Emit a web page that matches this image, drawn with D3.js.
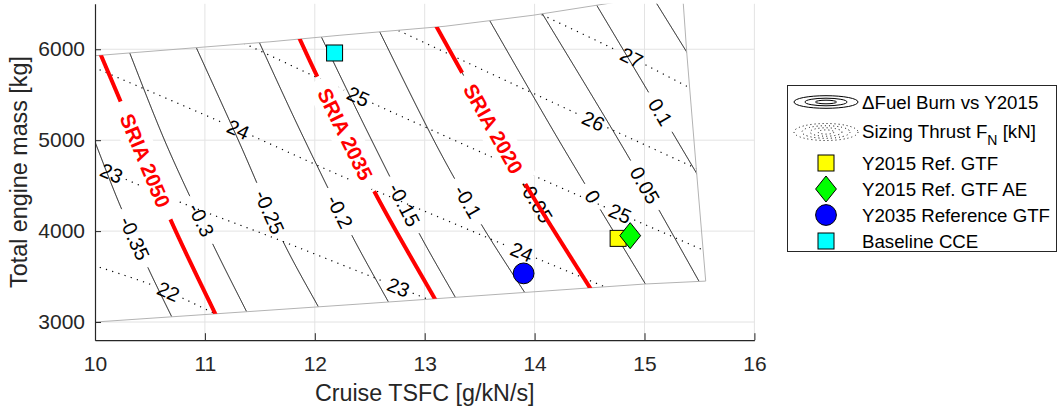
<!DOCTYPE html>
<html>
<head>
<meta charset="utf-8">
<title>Engine design space: cruise TSFC vs engine mass</title>
<script src="https://cdn.jsdelivr.net/npm/d3@7/dist/d3.min.js"></script>
<style>
  html, body { margin: 0; padding: 0; background: #fff; }
  svg { display: block; }
</style>
</head>
<body>
<svg id="chart" width="1060" height="412"></svg>
<script>
// ---------- axes ----------
const xTicks = [10, 11, 12, 13, 14, 15, 16];
const yTicks = [3000, 4000, 5000, 6000];
const xDomain = [10, 16];
const yDomain = [2800, 6500];

// ---------- outline of the evaluated design space [TSFC g/kN/s, mass kg] ----------
const designSpace = [
  [10, 5929], [11.592, 6082], [12.229, 6154], [13.185, 6253], [13.985, 6374],
  [14.659, 6502], [15.345, 6643], [15.353, 6502], [15.384, 5970], [15.475, 4634],
  [15.557, 3450], [15.005, 3418], [12.411, 3198], [10, 3000]
];

// ---------- fuel burn change vs Y2015 (solid contours) ----------
const fuelLevels = [-0.35, -0.3, -0.25, -0.2, -0.15, -0.1, -0.05, 0, 0.05, 0.1, 0.15];
const fuelLines = [
  [[10, 4981], [10.227, 4286], [10.485, 3590], [10.698, 3058]],
  [[10.316, 5959], [10.652, 4945], [11.076, 3846], [11.380, 3113]],
  [[10.922, 6017], [11.304, 5000], [11.713, 3882], [12.032, 3168]],
  [[11.496, 6073], [11.865, 5110], [12.336, 3956], [12.669, 3223]],
  [[12.060, 6135], [12.472, 5110], [12.942, 3992], [13.280, 3269]],
  [[12.591, 6191], [13.139, 4871], [13.519, 4066], [13.913, 3319]],
  [[13.109, 6245], [13.337, 5750], [13.922, 4505], [14.498, 3388]],
  [[13.592, 6314], [14.231, 4978], [15.005, 3425]],
  [[14.079, 6374], [14.868, 4788], [15.490, 3461]],
  [[14.565, 6484], [15.035, 5531], [15.475, 4634]],
  [[15.111, 6502], [15.384, 5970]]
];
// mass at which each fuel burn contour carries its label (null: unlabelled)
const fuelLabelMass = [3920, 4121, 4209, 4212, 4286, 4322, 4322, 4377, 4505, 5311, null];

// ---------- sizing thrust F_N [kN] (dotted contours) ----------
const thrustLevels = [22, 23, 24, 25, 26, 27];
const thrustLines = [
  [[10, 3619], [10.561, 3388], [11.095, 3090]],
  [[10, 4714], [10.804, 4304], [11.638, 3920], [12.593, 3462], [13.030, 3250]],
  [[10, 5796], [11.213, 5165], [12.259, 4597], [13.230, 4102], [14.019, 3700], [14.650, 3381]],
  [[11.365, 6060], [12.532, 5403], [14.049, 4579], [15.535, 3791]],
  [[12.775, 6198], [14.352, 5311], [15.455, 4698]],
  [[14.076, 6374], [14.777, 5970], [15.396, 5586]]
];
// TSFC values at which each thrust contour carries its labels
const thrustLabelTsfc = [[10.667], [10.152, 12.760], [11.304, 13.883], [12.396, 14.777], [14.534], [14.884]];

// ---------- SRIA fuel burn targets ----------
const sriaNames = ["SRIA 2050", "SRIA 2035", "SRIA 2020"];
const sriaLines = [
  [[10.061, 5915], [10.228, 5440], [10.692, 4113], [11.092, 3096]],
  [[11.865, 6107], [12.017, 5714], [12.548, 4421], [13.085, 3271]],
  [[13.109, 6245], [13.337, 5750], [13.922, 4505], [14.498, 3388]]
];
const sriaLabelMass = [4776, 5067, 5128];

// ---------- engine designs ----------
const engineNames = ["Y2015 Ref. GTF", "Y2015 Ref. GTF AE", "Y2035 Reference GTF", "Baseline CCE"];
const engineTsfc = [14.76, 14.87, 13.90, 12.18];
const engineMass = [3920, 3950, 3535, 5959];
const engineSymbols = ["square", "diamond", "circle", "square"];
const engineColors = ["#ffff00", "#00ff00", "#0000ff", "#00ffff"];

// ================= drawing =================
const FONT = '"Liberation Sans", Arial, Helvetica, sans-serif';
const AXIS_COLOR = "#262626";
const svg = d3.select("#chart").style("font-family", FONT);

const x = d3.scaleLinear().domain(xDomain).range([95, 754.4]);
const y = d3.scaleLinear().domain(yDomain).range([340.2, 3.8]);

const toPx = d => [x(d[0]), y(d[1])];
const smooth = d3.line().curve(d3.curveCatmullRom.alpha(0.5));
const straight = d3.line();

// clip regions: plot box and the evaluated design space
const defs = svg.append("defs");
defs.append("clipPath").attr("id", "plotClip").append("rect")
  .attr("x", x(xDomain[0])).attr("y", y(yDomain[1]))
  .attr("width", x(xDomain[1]) - x(xDomain[0]))
  .attr("height", y(yDomain[0]) - y(yDomain[1]));
defs.append("clipPath").attr("id", "spaceClip").append("path")
  .attr("d", straight(designSpace.map(toPx)) + "Z");

// text measuring helper
const measurer = svg.append("text").attr("visibility", "hidden").style("font-family", FONT);
function textWidth(str, size, weight) {
  measurer.attr("font-size", size).attr("font-weight", weight || "normal").text(str);
  return measurer.node().getComputedTextLength();
}

// sample a smoothed contour densely (ends stretched slightly so the clip trims them)
function trace(points) {
  let px = points.map(toPx);
  const stretch = (a, b) => {
    const dx = a[0] - b[0], dy = a[1] - b[1], l = Math.hypot(dx, dy);
    return [a[0] + dx / l * 8, a[1] + dy / l * 8];
  };
  px = [stretch(px[0], px[1]), ...px, stretch(px[px.length - 1], px[px.length - 2])];
  const tmp = svg.append("path").attr("d", smooth(px)).attr("fill", "none");
  const node = tmp.node();
  const L = node.getTotalLength();
  const n = Math.ceil(L / 0.5);
  const samples = d3.range(n + 1).map(i => {
    const s = i * L / n, p = node.getPointAtLength(s);
    return { s, x: p.x, y: p.y };
  });
  tmp.remove();
  return samples;
}

function locate(samples, key, target) {
  let best = 0, bd = Infinity;
  samples.forEach((p, i) => { const d = Math.abs(p[key] - target); if (d < bd) { bd = d; best = i; } });
  const a = samples[Math.max(0, best - 6)], b = samples[Math.min(samples.length - 1, best + 6)];
  let ang = Math.atan2(b.y - a.y, b.x - a.x) * 180 / Math.PI;
  if (ang > 90) ang -= 180;
  if (ang < -90) ang += 180;
  return { x: samples[best].x, y: samples[best].y, s: samples[best].s, ang };
}

function splitByGaps(samples, gaps) {
  const out = [];
  let cur = [];
  for (const p of samples) {
    if (gaps.some(g => p.s > g[0] && p.s < g[1])) {
      if (cur.length > 1) out.push(cur);
      cur = [];
    } else cur.push([p.x, p.y]);
  }
  if (cur.length > 1) out.push(cur);
  return out;
}

// ---- grid ----
const grid = svg.append("g").attr("stroke", "#e3e3e3").attr("stroke-width", 1);
grid.selectAll("line.gx").data(xTicks.slice(1)).join("line")
  .attr("x1", d => x(d)).attr("x2", d => x(d))
  .attr("y1", y(yDomain[0])).attr("y2", y(yDomain[1]));
grid.selectAll("line.gy").data(yTicks).join("line")
  .attr("x1", x(xDomain[0])).attr("x2", x(xDomain[1]))
  .attr("y1", d => y(d)).attr("y2", d => y(d));

// ---- layers ----
const plot = svg.append("g").attr("clip-path", "url(#plotClip)");
const inside = plot.append("g").attr("clip-path", "url(#spaceClip)");
const dottedLayer = inside.append("g");
const solidLayer = inside.append("g");
const outlineLayer = plot.append("g");
const labelLayer = plot.append("g");
const sriaLabelLayer = plot.append("g");
const redLayer = plot.append("g").attr("clip-path", "url(#spaceClip)");
const markerLayer = svg.append("g");

const LABEL_SIZE = 20;

// ---- thrust contours (dotted) ----
thrustLines.forEach((pts, i) => {
  const samples = trace(pts);
  const txt = String(thrustLevels[i]);
  const w = textWidth(txt, LABEL_SIZE);
  const spots = thrustLabelTsfc[i].map(t => locate(samples, "x", x(t)));
  const gaps = spots.map(p => [p.s - w / 2 - 4, p.s + w / 2 + 4]);
  splitByGaps(samples, gaps).forEach(seg => {
    dottedLayer.append("path").attr("d", straight(seg))
      .attr("fill", "none").attr("stroke", "#000").attr("stroke-width", 1.2)
      .attr("stroke-dasharray", "1.2 5.3");
  });
  spots.forEach(p => {
    labelLayer.append("text")
      .attr("transform", `translate(${p.x},${p.y}) rotate(${p.ang})`)
      .attr("text-anchor", "middle").attr("dy", "0.35em")
      .attr("font-size", LABEL_SIZE).attr("fill", "#000").text(txt);
  });
});

// ---- fuel burn contours (solid) ----
fuelLines.forEach((pts, i) => {
  const samples = trace(pts);
  const txt = String(fuelLevels[i]);
  let gaps = [], spot = null;
  if (fuelLabelMass[i] !== null) {
    const w = textWidth(txt, LABEL_SIZE);
    spot = locate(samples, "y", y(fuelLabelMass[i]));
    gaps = [[spot.s - w / 2 - 9, spot.s + w / 2 + 9]];
  }
  splitByGaps(samples, gaps).forEach(seg => {
    solidLayer.append("path").attr("d", straight(seg))
      .attr("fill", "none").attr("stroke", "#000").attr("stroke-width", 1);
  });
  if (spot) {
    labelLayer.append("text")
      .attr("transform", `translate(${spot.x},${spot.y}) rotate(${spot.ang})`)
      .attr("text-anchor", "middle").attr("dy", "0.35em")
      .attr("font-size", LABEL_SIZE).attr("fill", "#000").text(txt);
  }
});

// ---- design space outline ----
outlineLayer.append("path")
  .attr("d", straight(designSpace.map(toPx)) + "Z")
  .attr("fill", "none").attr("stroke", "#b3b3b3").attr("stroke-width", 1);

// ---- SRIA target lines with boxed labels ----
const SRIA_SIZE = 20.5;
sriaLines.forEach((pts, i) => {
  const samples = trace(pts);
  const txt = sriaNames[i];
  const w = textWidth(txt, SRIA_SIZE, "bold");
  const spot = locate(samples, "y", y(sriaLabelMass[i]));
  const g = sriaLabelLayer.append("g")
    .attr("transform", `translate(${spot.x},${spot.y}) rotate(${spot.ang})`);
  g.append("rect").attr("x", -w / 2 - 11).attr("y", -15).attr("width", w + 22).attr("height", 30)
    .attr("fill", "#fff");
  g.append("text").attr("text-anchor", "middle").attr("dy", "0.36em")
    .attr("font-size", SRIA_SIZE).attr("font-weight", "bold").attr("fill", "#ff0000").text(txt);
  splitByGaps(samples, [[spot.s - w / 2 - 14, spot.s + w / 2 + 14]]).forEach(seg => {
    redLayer.append("path").attr("d", straight(seg))
      .attr("fill", "none").attr("stroke", "#ff0000").attr("stroke-width", 4);
  });
});

// ---- marker shapes ----
function drawMarker(g, kind, cx, cy, fill) {
  let m;
  if (kind === "square") {
    m = g.append("rect").attr("x", cx - 8).attr("y", cy - 8).attr("width", 16).attr("height", 16);
  } else if (kind === "diamond") {
    m = g.append("path").attr("d", `M${cx},${cy - 13}L${cx + 10.4},${cy}L${cx},${cy + 13}L${cx - 10.4},${cy}Z`);
  } else {
    m = g.append("circle").attr("cx", cx).attr("cy", cy).attr("r", 10.4);
  }
  m.attr("fill", fill).attr("stroke", "#000").attr("stroke-width", 1);
}

engineNames.forEach((name, i) => {
  drawMarker(markerLayer, engineSymbols[i], x(engineTsfc[i]), y(engineMass[i]), engineColors[i]);
});

// ---- axes ----
const xAxis = svg.append("g").attr("transform", `translate(0,${y(yDomain[0])})`)
  .call(d3.axisBottom(x).tickValues(xTicks).tickFormat(d3.format("d"))
    .tickSize(-7).tickSizeOuter(0).tickPadding(16));
const yAxis = svg.append("g").attr("transform", `translate(${x(xDomain[0])},0)`)
  .call(d3.axisLeft(y).tickValues(yTicks).tickFormat(d3.format("d"))
    .tickSize(-6).tickSizeOuter(0).tickPadding(10));
[xAxis, yAxis].forEach(a => {
  a.attr("font-family", FONT).attr("font-size", 21);
  a.select(".domain").attr("stroke", AXIS_COLOR).attr("stroke-width", 1.2);
  a.selectAll(".tick line").attr("stroke", AXIS_COLOR).attr("stroke-width", 1);
  a.selectAll(".tick text").attr("fill", AXIS_COLOR);
});

svg.append("text")
  .attr("x", (x(xDomain[0]) + x(xDomain[1])) / 2).attr("y", 401)
  .attr("text-anchor", "middle").attr("font-size", 23.3).attr("fill", AXIS_COLOR)
  .text("Cruise TSFC [g/kN/s]");
svg.append("text")
  .attr("transform", `translate(27,${(y(yDomain[0]) + y(yDomain[1])) / 2}) rotate(-90)`)
  .attr("text-anchor", "middle").attr("font-size", 23.3).attr("fill", AXIS_COLOR)
  .text("Total engine mass [kg]");

// ---- legend ----
const LEG_SIZE = 18.7;
const legend = svg.append("g");
legend.append("rect").attr("x", 787.5).attr("y", 85.5).attr("width", 269).attr("height", 166)
  .attr("fill", "#fff").attr("stroke", AXIS_COLOR).attr("stroke-width", 1);
const iconX = 826, textX = 862;
const rowY = [102, 131, 163, 189, 215, 241];

// solid contour icon
[[32, 6.3], [21, 3.8], [10.5, 1.8]].forEach(([rx, ry]) => {
  legend.append("ellipse").attr("cx", iconX).attr("cy", rowY[0]).attr("rx", rx).attr("ry", ry)
    .attr("fill", "none").attr("stroke", "#000").attr("stroke-width", 1);
});
legend.append("text").attr("x", textX).attr("y", rowY[0]).attr("dy", "0.35em")
  .attr("font-size", LEG_SIZE).attr("fill", "#000").text("\u0394Fuel Burn vs Y2015");

// dotted contour icon
[[32, 8.5], [24, 6.3], [16, 4.2], [8, 2.1]].forEach(([rx, ry]) => {
  legend.append("ellipse").attr("cx", iconX).attr("cy", rowY[1] + 1).attr("rx", rx).attr("ry", ry)
    .attr("fill", "none").attr("stroke", "#000").attr("stroke-width", 1)
    .attr("stroke-dasharray", "1 3");
});
const thrustLegend = legend.append("text").attr("x", textX).attr("y", rowY[1]).attr("dy", "0.35em")
  .attr("font-size", LEG_SIZE).attr("fill", "#000");
thrustLegend.append("tspan").text("Sizing Thrust F");
thrustLegend.append("tspan").attr("font-size", 14).attr("dy", 7).text("N");
thrustLegend.append("tspan").attr("dy", -7).text(" [kN]");

engineNames.forEach((name, i) => {
  drawMarker(legend, engineSymbols[i], iconX, rowY[i + 2], engineColors[i]);
  legend.append("text").attr("x", textX).attr("y", rowY[i + 2]).attr("dy", "0.35em")
    .attr("font-size", LEG_SIZE).attr("fill", "#000").text(name);
});
</script>
</body>
</html>
